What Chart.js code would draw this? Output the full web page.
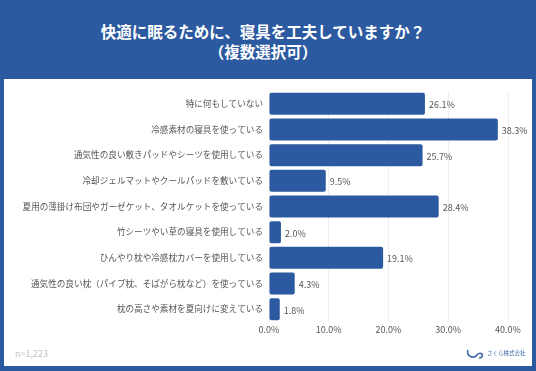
<!DOCTYPE html>
<html>
<head>
<meta charset="utf-8">
<script src="https://cdn.jsdelivr.net/npm/chart.js@4"></script>
<style>
  html, body { margin: 0; padding: 0; }
  body {
    width: 536px; height: 371px; background: #2c5aa0; position: relative; overflow: hidden;
    font-family: "Noto Sans CJK JP", "Noto Sans", sans-serif;
  }
  .title {
    position: absolute; left: 0; top: 21px; width: 526px; text-align: center;
    color: #fff; font-weight: bold; font-size: 15.5px; line-height: 20px;
  }
  .panel {
    position: absolute; left: 4px; top: 79px; width: 528px; height: 287px; background: #fff;
  }
  .panel canvas { position: absolute; left: 0; top: 0; }
  .note { position: absolute; left: 11px; top: 268px; font-size: 9px; color: #c0c0c0; }
  .logo { position: absolute; left: 462px; top: 268px; font-size: 5.5px; color: #3a6aa8; display: flex; align-items: center; white-space: nowrap; }
  .logo svg { margin-right: 3px; }
</style>
</head>
<body>
<div class="title">快適に眠るために、寝具を工夫していますか？<br>（複数選択可）</div>
<div class="panel">
  <canvas id="chart" width="528" height="287"></canvas>
  <div class="note">n=1,223</div>
  <div class="logo">
    <svg width="18" height="12" viewBox="0 0 18 12"><path d="M2 3 C0 8 6 12 10 9 C12 7 13 5 16 7 C17 9 16 11 13 11" fill="none" stroke="#3a6aa8" stroke-width="1.6"/></svg>
    さくら株式会社
  </div>
</div>
<script>
const categories = [
  "特に何もしていない",
  "冷感素材の寝具を使っている",
  "通気性の良い敷きパッドやシーツを使用している",
  "冷却ジェルマットやクールパッドを敷いている",
  "夏用の薄掛け布団やガーゼケット、タオルケットを使っている",
  "竹シーツやい草の寝具を使用している",
  "ひんやり枕や冷感枕カバーを使用している",
  "通気性の良い枕（パイプ枕、そばがら枕など）を使っている",
  "枕の高さや素材を夏向けに変えている"
];
const values = [26.1, 38.3, 25.7, 9.5, 28.4, 2.0, 19.1, 4.3, 1.8];
const xTicks = [0, 10, 20, 30, 40];

const barColor = "#2c5aa0";
const textColor = "#555";
const fontFamily = "'Noto Sans CJK JP', 'Noto Sans', sans-serif";

const valueLabels = {
  id: "valueLabels",
  afterDatasetsDraw(chart) {
    const ctx = chart.ctx;
    const meta = chart.getDatasetMeta(0);
    ctx.save();
    ctx.font = "9px " + fontFamily;
    ctx.fillStyle = textColor;
    ctx.textAlign = "left";
    ctx.textBaseline = "middle";
    meta.data.forEach((bar, i) => {
      ctx.fillText(values[i].toFixed(1) + "%", bar.x + 4, bar.y + 1);
    });
    ctx.restore();
  }
};

new Chart(document.getElementById("chart"), {
  type: "bar",
  data: {
    labels: categories,
    datasets: [{
      data: values,
      backgroundColor: barColor,
      borderRadius: 2,
      borderSkipped: false,
      categoryPercentage: 1,
      barPercentage: 0.86
    }]
  },
  options: {
    indexAxis: "y",
    responsive: false,
    animation: false,
    layout: { padding: { top: 12, right: 24, bottom: 24, left: 0 } },
    plugins: {
      legend: { display: false },
      tooltip: { enabled: false }
    },
    scales: {
      x: {
        min: 0,
        max: 40,
        afterFit: (s) => { s.height = 20; },
        afterBuildTicks: (s) => { s.ticks = xTicks.map(v => ({ value: v })); },
        ticks: {
          padding: 2,
          color: textColor,
          font: { size: 9, family: fontFamily },
          callback: (v) => Number(v).toFixed(1) + "%"
        },
        grid: { color: "#efefef", drawTicks: false },
        border: { display: false }
      },
      y: {
        afterFit: (s) => { s.width = 265; },
        ticks: {
          padding: 6,
          color: textColor,
          font: { size: 8.6, family: fontFamily }
        },
        grid: { display: false, drawTicks: false },
        border: { display: false }
      }
    }
  },
  plugins: [valueLabels]
});
</script>
</body>
</html>
